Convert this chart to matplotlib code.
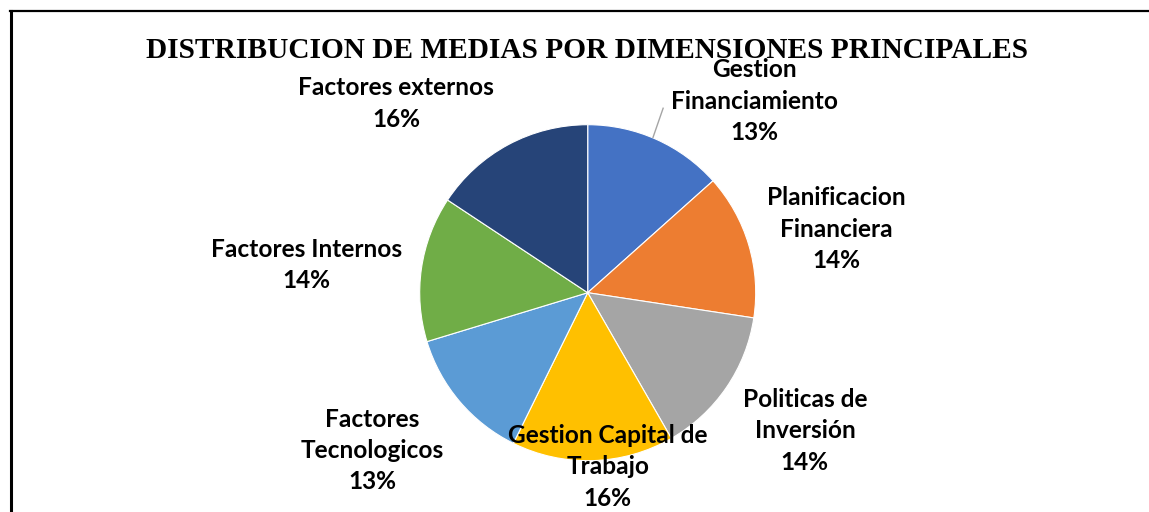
import matplotlib
matplotlib.use("Agg")
import matplotlib.pyplot as plt
from matplotlib.lines import Line2D

title = "DISTRIBUCION DE MEDIAS POR DIMENSIONES PRINCIPALES"
labels = ["Gestion\nFinanciamiento", "Planificacion\nFinanciera", "Politicas de\nInversión",
          "Gestion Capital de\nTrabajo", "Factores\nTecnologicos", "Factores Internos",
          "Factores externos"]
values = [13.4, 14.0, 14.3, 15.6, 13.0, 14.0, 15.7]
colors = ["#4472C4", "#ED7D31", "#A5A5A5", "#FFC000", "#5B9BD5", "#70AD47", "#264478"]
# label positions in units of pie radius (relative to center)
label_pos = [(0.99, 1.141), (1.478, 0.379), (1.293, -0.823), (0.12, -1.037),
             (-1.284, -0.940), (-1.674, 0.165), (-1.139, 1.126)]

W, H = 1149, 512
fig = plt.figure(figsize=(W / 100, H / 100), dpi=100)

cx, cy, r = 587.7, 292.7, 168
ax = fig.add_axes([(cx - r) / W, (H - cy - r) / H, 2 * r / W, 2 * r / H])
ax.pie(values, colors=colors, startangle=90, counterclock=False, radius=1,
       wedgeprops=dict(edgecolor="white", linewidth=0.8))
ax.set_xlim(-1, 1)
ax.set_ylim(-1, 1)
ax.set_aspect("equal")
ax.axis("off")

total = sum(values)
for lab, v, (x, y) in zip(labels, values, label_pos):
    ax.text(x, y, f"{lab}\n{round(v / total * 100)}%", ha="center", va="center",
            fontsize=17.6, fontweight="bold", family="Lato", linespacing=1.43,
            color="#000000", clip_on=False)

# leader line for first label
ax.add_line(Line2D([0.389, 0.449], [0.925, 1.098], color="#A5A5A5", lw=1.0, clip_on=False))

fig.text(587 / W, 1 - 50 / H, title, ha="center", va="center", fontsize=21.2,
         fontweight="bold", family="Liberation Serif")

# frame
fig.add_artist(Line2D([11 / W, 11 / W], [0, 1 - 11 / H], transform=fig.transFigure,
                      color="black", lw=2.2))
fig.add_artist(Line2D([10 / W, 1], [1 - 11 / H, 1 - 11 / H], transform=fig.transFigure,
                      color="black", lw=1.6))

fig.savefig("out.png", dpi=100, facecolor="white")
